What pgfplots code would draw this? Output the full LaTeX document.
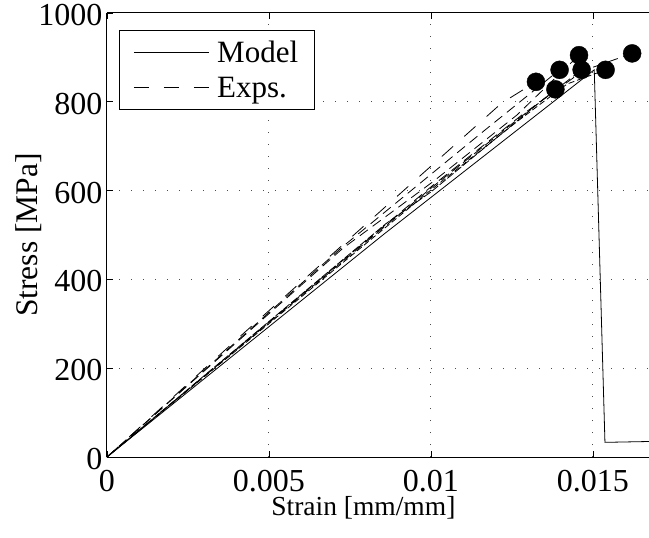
\documentclass[border=0pt]{standalone}
\usepackage{fontspec}
\setmainfont{Liberation Serif}
\usepackage{pgfplots}
\pgfplotsset{compat=1.18}
\begin{document}
\begin{tikzpicture}
\begin{axis}[
  scale only axis, width=542pt, height=444pt,
  xmin=0, xmax=0.01673, ymin=0, ymax=1000,
  xtick={0,0.005,0.01,0.015}, xticklabels={0,0.005,0.01,0.015},
  ytick={0,200,400,600,800,1000},
  yticklabels={0,200,400,600,800,1000},
  scaled x ticks=false,
  axis y line*=left,
  y axis line style={-},
  tick align=inside,
  major tick length=6pt,
  tick style={black, line width=0.7pt},
  axis line style={line width=1pt},
  grid=major,
  major grid style={black!70, line width=1pt, dash pattern=on 1.3pt off 10.7pt},
  /pgf/number format/assume math mode=true,
  tick label style={font=\fontsize{32}{36}\selectfont},
  xticklabel style={anchor=base, yshift=-34pt},
  yticklabel style={xshift=-1pt, yshift=-2pt},
  xlabel={Strain [mm/mm]},
  ylabel={Stress [MPa]},
  xlabel style={font=\fontsize{27.5}{32}\selectfont, at={(axis description cs:0.473,0)}, anchor=base, yshift=-58pt},
  ylabel style={font=\fontsize{31.5}{35}\selectfont, yshift=-10pt},
  legend style={at={(0.022,0.962)}, anchor=north west, font=\fontsize{31}{35}\selectfont,
    draw=black, line width=1pt, inner xsep=14pt, inner ysep=8.5pt, row sep=9pt},
  legend cell align=left,
  legend image code/.code={\draw[#1, line width=0.8pt] (0pt,0pt) -- (75pt,0pt); \path (81pt,0pt);},
]
\addplot[black, line width=0.8pt] coordinates {(0,0) (0.00855,502) (0.01504,872) (0.01537,33) (0.0168,35)};
\addlegendentry{Model}
\addplot[black, line width=0.8pt, dash pattern=on 15pt off 15pt] coordinates {(0,0) (0.0041,271) (0.01218,797) (0.01324,845)};
\addlegendentry{Exps.}
\pgfplotsset{every axis plot/.append style={forget plot}}
\addplot[black, line width=0.8pt, dash pattern=on 8pt off 2pt] coordinates {(0,0) (0.0086,525) (0.01,597) (0.01384,828)};
\addplot[black, line width=0.8pt, dash pattern=on 10pt off 6pt] coordinates {(0,0) (0.00728,474) (0.01161,733) (0.01397,872)};
\addplot[black, line width=0.8pt, dash pattern=on 10pt off 6pt] coordinates {(0,0) (0.00728,470) (0.01006,620) (0.01265,770) (0.01457,905)};
\addplot[black, line width=0.8pt, dash pattern=on 10pt off 4pt] coordinates {(0,0) (0.01006,609) (0.01265,759) (0.01465,872)};
\addplot[black, line width=0.8pt, dash pattern=on 6pt off 3pt] coordinates {(0,0) (0.01006,605) (0.01265,755) (0.0142,840) (0.01539,872)};
\addplot[black, line width=0.8pt, dash pattern=on 10pt off 6pt] coordinates {(0,0) (0.01006,612) (0.0128,770) (0.0147,870) (0.01621,909)};
\addplot[only marks, mark=*, mark size=9pt, black] coordinates {
(0.01324,845) (0.01384,828) (0.01397,872) (0.01457,905) (0.01465,872) (0.01539,872) (0.01621,909)};
\end{axis}
\pgfresetboundingbox
\path[use as bounding box] ([shift={(-107pt,-80pt)}]current axis.south west) rectangle ([shift={(0pt,13pt)}]current axis.north east);
\end{tikzpicture}
\end{document}
